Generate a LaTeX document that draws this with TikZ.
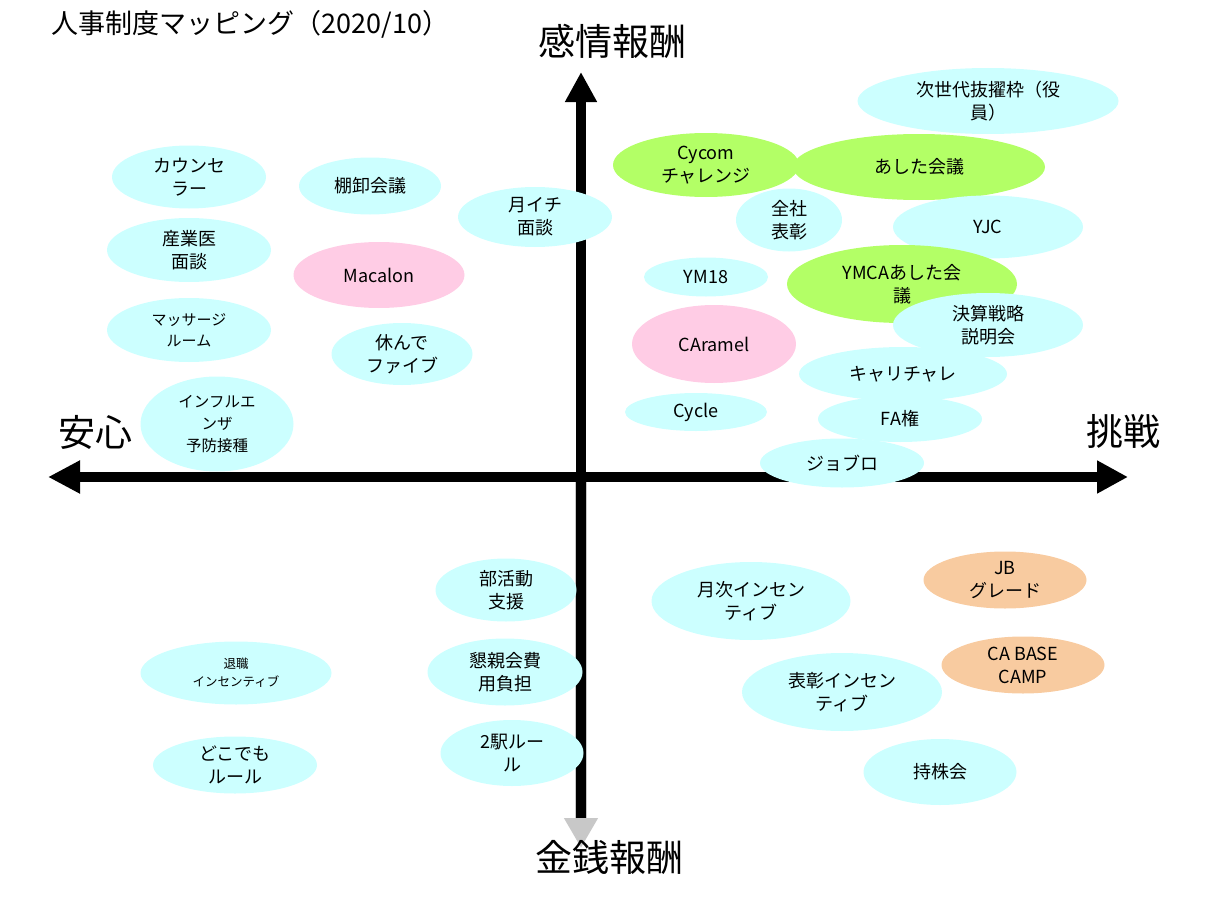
\documentclass[tikz,border=0pt]{standalone}
\usepackage{fontspec}
\setmainfont{Noto Sans CJK JP}
\usetikzlibrary{shapes.geometric,arrows.meta}
\definecolor{mizu}{HTML}{CCFFFF}
\definecolor{momo}{HTML}{FFCCE5}
\definecolor{wakaba}{HTML}{B3FF66}
\definecolor{dai}{HTML}{F8CBA0}
\definecolor{hai}{HTML}{C8C8C8}
\begin{document}
\begin{tikzpicture}[x=1pt,y=-1pt,
	bub/.style={ellipse,fill=mizu,inner sep=0pt,align=center,font=\fontsize{18}{23}\selectfont},
	sz/.style 2 args={minimum width=#1pt,minimum height=#2pt},
	jiku/.style={line width=10pt},
	midashi/.style={font=\fontsize{37}{40}\selectfont}]
	\useasboundingbox (0,0) rectangle (1208,907);
	\draw[hai,line width=12pt,-{Triangle[length=30pt,width=32pt]}] (581,477) -- (581,848);
	\draw[jiku,-{Triangle[length=30pt,width=30pt]}] (581,818) -- (581,72);
	\draw[jiku,{Triangle[length=32pt,width=31pt]}-{Triangle[length=31pt,width=31pt]}] (48,477) -- (1128,477);
	\node[bub,sz={154}{63}] (kaunsera) at (189,177) {カウンセ\\ラー};
	\node[bub,sz={142}{57}] (tanaoroshi) at (370,186) {棚卸会議};
	\node[bub,sz={164}{64}] (sangyoi) at (189,250) {産業医\\面談};
	\node[bub,fill=momo,sz={171}{66}] (macalon) at (379,275) {Macalon};
	\node[bub,sz={164}{64},font=\fontsize{15}{21}\selectfont] (massage) at (189,330) {マッサージ\\ルーム};
	\node[bub,sz={141}{62}] (yasunde) at (402,354) {休んで\\ファイブ};
	\node[bub,sz={153}{95},font=\fontsize{15.5}{22}\selectfont] (influ) at (217,424) {インフルエ\\ンザ\\予防接種};
	\node[bub,sz={154}{60}] (tsukiichi) at (535,217) {月イチ\\面談};
	\node[bub,sz={261}{66}] (jisedai) at (988,101) {次世代抜擢枠（役\\員）};
	\node[bub,fill=wakaba,sz={186}{64}] (cycom) at (706,165) {Cycom\\チャレンジ};
	\node[bub,fill=wakaba,sz={252}{66}] (ashita) at (919,167) {あした会議};
	\node[bub,sz={106}{63}] (zensha) at (789,220) {全社\\表彰};
	\node[bub,sz={190}{63}] (yjc) at (988,227) {YJC};
	\node[bub,sz={124}{39}] (ym18) at (706,277) {YM18};
	\node[bub,fill=wakaba,sz={230}{78}] (ymca) at (902,284) {YMCAあした会\\議};
	\node[bub,sz={190}{64}] (kessan) at (988,325) {決算戦略\\説明会};
	\node[bub,fill=momo,sz={164}{78}] (caramel) at (714,344) {CAramel};
	\node[bub,sz={208}{54}] (kyarichare) at (903,374) {キャリチャレ};
	\node[bub,sz={142}{38}] (cycle) at (696,412) {Cycle};
	\node[bub,sz={164}{46}] (fa) at (900,419) {FA権};
	\node[bub,sz={164}{49}] (joburo) at (842,463) {ジョブロ};
	\node[bub,sz={141}{63}] (bukatsu) at (506,590) {部活動\\支援};
	\node[bub,sz={155}{67}] (konshin) at (505,672) {懇親会費\\用負担};
	\node[bub,sz={143}{66}] (niekirule) at (512,753) {2駅ルー\\ル};
	\node[bub,sz={199}{78}] (getsuji) at (751,601) {月次インセン\\ティブ};
	\node[bub,sz={200}{78}] (hyosho) at (842,692) {表彰インセン\\ティブ};
	\node[bub,fill=dai,sz={163}{57}] (jb) at (1005,580) {JB\\グレード};
	\node[bub,fill=dai,sz={163}{57}] (cabase) at (1023,665) {CA BASE\\CAMP};
	\node[bub,sz={153}{66}] (mochikabu) at (940,772) {持株会};
	\node[bub,sz={191}{63},font=\fontsize{12.5}{18}\selectfont] (taishoku) at (236,673) {退職\\インセンティブ};
	\node[bub,sz={164}{57}] (dokodemo) at (235,765) {どこでも\\ルール};
	\node[midashi] (kanjo) at (612,41) {感情報酬};
	\node[midashi] (anshin) at (95,432) {安心};
	\node[midashi] (chosen) at (1123,431) {挑戦};
	\node[midashi] (kinsen) at (609,857) {金銭報酬};
	\node[anchor=west,font=\fontsize{27}{30}\selectfont] (title) at (48,24) {人事制度マッピング（2020/10）};
\end{tikzpicture}
\end{document}
